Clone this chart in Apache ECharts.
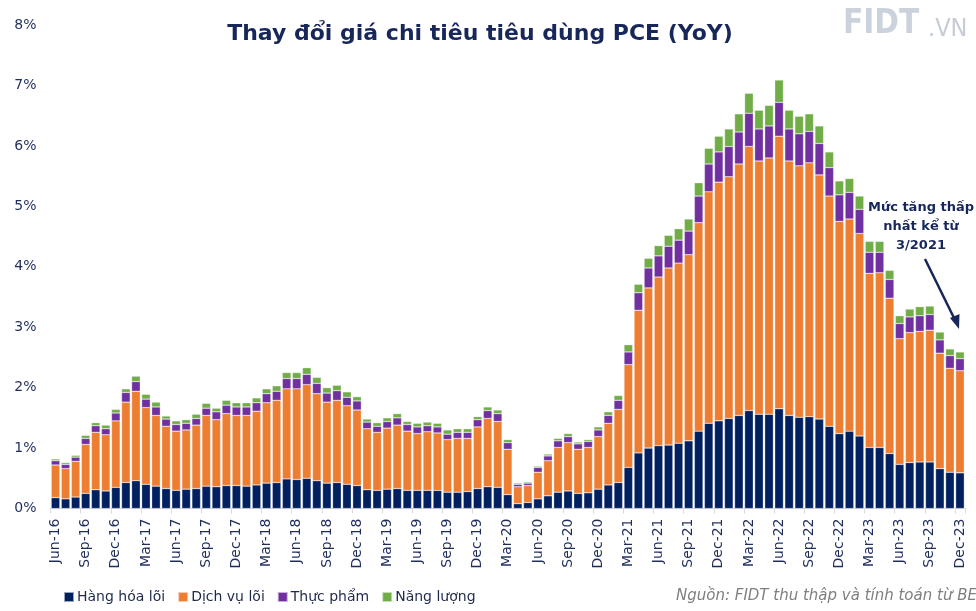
<!DOCTYPE html>
<html>
<head>
<meta charset="utf-8">
<script src="https://cdn.jsdelivr.net/npm/echarts@6/dist/echarts.min.js"></script>
<style>
  html, body { margin: 0; padding: 0; background: #fff; }
  #chart { width: 976px; height: 611px; }
</style>
</head>
<body>
<div id="chart"></div>
<script>
// Tháng (Jun-16 .. Dec-23)
const months = [
  'Jun-16','Jul-16','Aug-16','Sep-16','Oct-16','Nov-16','Dec-16',
  'Jan-17','Feb-17','Mar-17','Apr-17','May-17','Jun-17','Jul-17','Aug-17','Sep-17','Oct-17','Nov-17','Dec-17',
  'Jan-18','Feb-18','Mar-18','Apr-18','May-18','Jun-18','Jul-18','Aug-18','Sep-18','Oct-18','Nov-18','Dec-18',
  'Jan-19','Feb-19','Mar-19','Apr-19','May-19','Jun-19','Jul-19','Aug-19','Sep-19','Oct-19','Nov-19','Dec-19',
  'Jan-20','Feb-20','Mar-20','Apr-20','May-20','Jun-20','Jul-20','Aug-20','Sep-20','Oct-20','Nov-20','Dec-20',
  'Jan-21','Feb-21','Mar-21','Apr-21','May-21','Jun-21','Jul-21','Aug-21','Sep-21','Oct-21','Nov-21','Dec-21',
  'Jan-22','Feb-22','Mar-22','Apr-22','May-22','Jun-22','Jul-22','Aug-22','Sep-22','Oct-22','Nov-22','Dec-22',
  'Jan-23','Feb-23','Mar-23','Apr-23','May-23','Jun-23','Jul-23','Aug-23','Sep-23','Oct-23','Nov-23','Dec-23'
]

// Hàng hóa lõi
const hangHoaLoi = [
  0.18,0.16,0.19,0.25,0.31,0.29,0.35,
  0.43,0.46,0.40,0.37,0.33,0.30,0.32,0.33,0.37,0.36,0.38,0.38,
  0.37,0.39,0.42,0.43,0.49,0.48,0.50,0.46,0.42,0.43,0.40,0.38,
  0.31,0.30,0.32,0.33,0.30,0.30,0.30,0.30,0.27,0.27,0.28,0.33,
  0.36,0.35,0.23,0.08,0.10,0.16,0.21,0.27,0.29,0.25,0.26,0.32,
  0.39,0.43,0.68,0.92,1.00,1.04,1.05,1.08,1.12,1.28,1.41,1.45,
  1.49,1.54,1.62,1.56,1.56,1.65,1.54,1.51,1.52,1.48,1.36,1.24,
  1.28,1.20,1.01,1.01,0.91,0.73,0.76,0.77,0.77,0.66,0.60,0.59
]

// Dịch vụ lõi
const dichVuLoi = [
  0.54,0.50,0.59,0.81,0.95,0.93,1.10,
  1.33,1.48,1.27,1.17,1.03,0.98,0.98,1.05,1.17,1.11,1.19,1.16,
  1.17,1.22,1.33,1.36,1.49,1.50,1.55,1.44,1.34,1.36,1.30,1.25,
  1.01,0.96,1.01,1.05,0.98,0.94,0.97,0.95,0.87,0.89,0.88,1.02,
  1.13,1.09,0.75,0.28,0.28,0.44,0.58,0.74,0.80,0.73,0.75,0.87,
  1.02,1.21,1.70,2.36,2.65,2.79,2.93,2.98,3.08,3.45,3.83,3.95,
  4.00,4.16,4.37,4.19,4.24,4.51,4.21,4.16,4.20,4.04,3.81,3.51,
  3.51,3.35,2.88,2.89,2.57,2.08,2.15,2.16,2.18,1.91,1.72,1.69
]

// Thực phẩm
const thucPham = [
  0.07,0.07,0.07,0.10,0.11,0.10,0.13,
  0.16,0.16,0.14,0.14,0.12,0.11,0.11,0.11,0.12,0.13,0.14,0.14,
  0.14,0.14,0.15,0.15,0.17,0.17,0.17,0.17,0.15,0.16,0.14,0.15,
  0.11,0.10,0.11,0.12,0.11,0.11,0.10,0.10,0.09,0.10,0.10,0.12,
  0.13,0.13,0.11,0.04,0.04,0.08,0.08,0.11,0.10,0.09,0.10,0.11,
  0.13,0.15,0.21,0.29,0.33,0.35,0.36,0.38,0.39,0.44,0.46,0.50,
  0.50,0.53,0.55,0.53,0.53,0.56,0.53,0.53,0.52,0.52,0.47,0.44,
  0.44,0.40,0.35,0.34,0.31,0.25,0.26,0.26,0.26,0.22,0.21,0.20
]

// Năng lượng
const nangLuong = [
  0.03,0.03,0.03,0.05,0.05,0.06,0.06,
  0.06,0.09,0.08,0.08,0.05,0.06,0.06,0.07,0.08,0.06,0.08,0.07,
  0.07,0.08,0.08,0.09,0.10,0.10,0.11,0.10,0.09,0.09,0.09,0.07,
  0.05,0.06,0.06,0.07,0.05,0.06,0.06,0.06,0.07,0.06,0.06,0.05,
  0.06,0.06,0.05,0.02,0.02,0.02,0.03,0.04,0.05,0.03,0.03,0.05,
  0.06,0.08,0.12,0.14,0.16,0.17,0.18,0.19,0.20,0.22,0.26,0.26,
  0.29,0.30,0.33,0.31,0.34,0.37,0.31,0.29,0.29,0.29,0.26,0.23,
  0.23,0.22,0.18,0.18,0.15,0.13,0.13,0.15,0.14,0.13,0.11,0.11
]

const yTicks = [0, 1, 2, 3, 4, 5, 6, 7, 8]

const navyText = '#1F2D5C'
const fontFamily = 'DejaVu Sans'

const chart = echarts.init(document.getElementById('chart'))

function makeSeries(name, data, color) {
  return {
    name: name,
    type: 'bar',
    stack: 'pce',
    barCategoryGap: '14%',
    data: data,
    itemStyle: {
      color: color,
      borderColor: 'rgba(255,255,255,0.6)',
      borderWidth: 0.5
    }
  }
}

const option = {
  animation: false,
  backgroundColor: '#fff',
  textStyle: { fontFamily: fontFamily },
  title: {
    text: 'Thay đổi giá chi tiêu tiêu dùng PCE (YoY)',
    left: 475,
    textAlign: 'center',
    top: 18,
    textStyle: {
      color: '#17275A',
      fontSize: 22,
      fontWeight: 'bold',
      fontFamily: fontFamily
    }
  },
  legend: {
    left: 58,
    top: 585,
    icon: 'rect',
    itemWidth: 10,
    itemHeight: 10,
    itemGap: 12,
    textStyle: { color: '#1F2A4A', fontSize: 14, fontFamily: fontFamily, padding: [0, 0, 0, -2] },
    data: ['Hàng hóa lõi', 'Dịch vụ lõi', 'Thực phẩm', 'Năng lượng']
  },
  grid: {
    left: 50.5,
    right: 11,
    top: 25,
    bottom: 102.5,
    containLabel: false
  },
  xAxis: {
    type: 'category',
    data: months,
    axisLine: { show: true, lineStyle: { color: '#D9D9D9', width: 1 } },
    axisTick: { show: true, interval: 2, length: 5, lineStyle: { color: '#D9D9D9' } },
    axisLabel: {
      interval: 2,
      rotate: 90,
      margin: 10,
      color: navyText,
      fontSize: 14,
      fontFamily: fontFamily
    }
  },
  yAxis: {
    type: 'value',
    min: yTicks[0],
    max: yTicks[yTicks.length - 1],
    interval: 1,
    splitLine: { show: false },
    axisLine: { show: false },
    axisTick: { show: false },
    axisLabel: {
      formatter: '{value}%',
      color: navyText,
      fontSize: 14,
      margin: 14,
      fontFamily: fontFamily
    }
  },
  series: [
    makeSeries('Hàng hóa lõi', hangHoaLoi, '#002060'),
    makeSeries('Dịch vụ lõi', dichVuLoi, '#ED7D31'),
    makeSeries('Thực phẩm', thucPham, '#7030A0'),
    makeSeries('Năng lượng', nangLuong, '#70AD47')
  ],
  graphic: [
    // logo
    {
      type: 'text',
      x: 843,
      y: 8,
      style: {
        text: 'FIDT',
        fill: '#CBD2DC',
        font: 'bold 33px "DejaVu Sans Condensed", "DejaVu Sans"'
      }
    },
    {
      type: 'text',
      x: 928,
      y: 17,
      style: {
        text: '.VN',
        fill: '#C5CCD7',
        font: '25px "DejaVu Sans Condensed", "DejaVu Sans"'
      }
    },
    // chú thích
    {
      type: 'text',
      x: 921,
      y: 198,
      style: {
        text: 'Mức tăng thấp\nnhất kể từ\n3/2021',
        align: 'center',
        verticalAlign: 'top',
        fill: '#17275A',
        font: 'bold 13px "DejaVu Sans"',
        lineHeight: 19
      }
    },
    {
      type: 'line',
      shape: { x1: 925, y1: 259, x2: 956, y2: 322 },
      style: { stroke: '#17275A', lineWidth: 2.5 }
    },
    {
      type: 'polygon',
      shape: { points: [[959, 329], [950, 318], [959.5, 314]] },
      style: { fill: '#17275A' }
    },
    // nguồn
    {
      type: 'text',
      x: 676,
      y: 589,
      style: {
        text: 'Nguồn: FIDT thu thập và tính toán từ BEA',
        fill: '#7F7F7F',
        font: 'italic 15px "DejaVu Sans"'
      }
    }
  ]
}

chart.setOption(option)
</script>
</body>
</html>
